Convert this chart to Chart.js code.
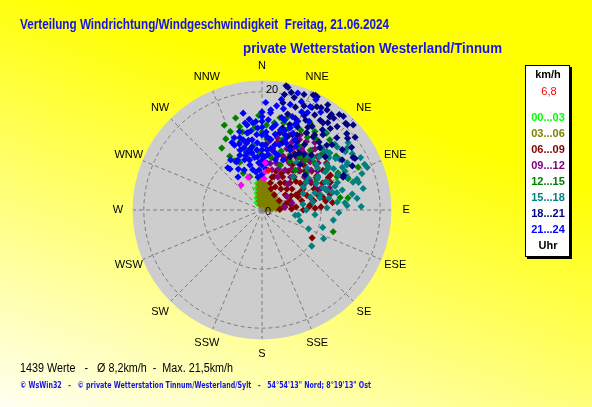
<!DOCTYPE html>
<html>
<head>
<meta charset="utf-8">
<script src="https://cdn.jsdelivr.net/npm/chart.js@4.4.1/dist/chart.umd.min.js"></script>
<style>
html,body{margin:0;padding:0;}
body{width:592px;height:407px;overflow:hidden;background:linear-gradient(200deg,#ffff00 30%,#fffff2 100%);}
canvas{display:block;}
</style>
</head>
<body>
<canvas id="rose" width="592" height="407"></canvas>
<script>
// wind rose data: [direction in degrees, speed in km/h]
const compass = ['N','NNE','NE','ENE','E','ESE','SE','SSE','S','SSW','SW','WSW','W','WNW','NW','NNW'];
const timeBands = ['00...03','03...06','06...09','09...12','12...15','15...18','18...21','21...24'];
const bandColors = ['#00ff00','#808000','#800000','#800080','#008000','#008080','#000080','#0000ff'];
const ringValues = [10, 20];
const speedMax = 22;

const band0003 = [[350,4.6],[347,3.8],[344,3.0],[337,2.2],[325,1.5],[351,3.4],[355,4.2],[347,2.3],[352,4.0],[356,3.0]];
const band0306 = [[356,4.9],[2,4.9],[353,4.3],[0,4.2],[9,4.3],[352,3.6],[0,3.6],[8,3.6],[16,3.7],
  [350,2.9],[0,2.9],[10,2.9],[19,3.1],[30,3.3],[347,2.3],[0,2.2],[13,2.3],[25,2.4],[35,2.7],[45,3.1],
  [342,1.6],[0,1.5],[18,1.6],[34,1.8],[45,2.2],[53,2.6],[61,3.1],[338,0.9],[11,0.9],[39,1.1],[58,1.6],
  [67,2.2],[73,2.8],[75,3.3],[63,0.4],[80,1.0],[84,1.7],[86,2.4],[87,3.1]];
const band0609 = [[82,3.8],[85,5.8],[86,8.0],[87,10.0],[62,3.3],[72,5.0],[77,6.9],[80,8.9],[82,10.9],
  [39,3.3],[57,4.7],[66,6.3],[72,8.0],[75,9.8],[77,11.8],[23,3.9],[42,4.8],[55,6.2],[63,7.8],[68,9.5],[72,11.3],
  [17,4.8],[34,5.5],[46,6.6],[55,7.9],[61,9.5],[66,11.2],[17,5.8],[32,6.6],[44,7.8],[53,9.2],[59,10.7],
  [20,7.0],[34,7.9],[44,9.2],[52,10.7],[57,12.3],[22,8.2],[34,9.2],[43,10.4],[50,11.9],[23,9.6],[34,10.6],[43,12.0],
  [32,12.0],[40,13.2],[119,9.7],[44,14.5],[63,13.0],[68,12.5],[84,8.2],
  [20,6.0],[28,7.0],[38,8.5],[48,9.8],[58,11.0],[64,12.5],[70,10.0],[76,8.5],[78,10.5],[84,12.0],[88,9.0],
  [90,7.0],[88,5.0],[75,4.2],[64,5.5],[50,5.5],[30,4.5],[40,6.0],[50,7.5],[58,8.5],[65,7.0],[70,6.5],[80,5.0],
  [27,9.5],[38,11.0],[30,11.0],[46,13.0],[54,13.5],[88,3.0]];
const band0912 = [[17,13.3],[27,14.3],[13,11.8],[24,12.6],[33,13.8],[10,10.5],[22,11.2],[33,12.3],[41,13.7],
  [8,9.3],[21,9.8],[32,10.8],[41,12.2],[17,8.3],[30,9.2],[40,10.5],[50,12.4],[14,7.0],[30,7.8],[42,9.1],[51,10.7],
  [26,6.2],[41,7.4],[52,9.1],[45,6.2],[64,10.0],[77,5.2],[83,3.9],[62,4.8],[344,9.2],
  [5,11.5],[12,12.5],[20,13.5],[26,11.5],[36,12.0],[45,11.5],[38,14.5],[30,15.0],[47,13.5],[55,11.5],[58,9.5],
  [36,8.5],[22,7.5],[16,9.5],[10,8.0],[70,10.5],[72,12.0],[28,13.5]];
const band1215 = [[336,15.7],[338,14.3],[346,13.6],[342,12.1],[329,10.6],[335,8.9],[350,13.3],[348,9.9],[0,13.2],
  [8,14.9],[11,15.9],[14,15.7],[358,9.7],[5,10.2],[16,12.3],[22,13.8],[32,14.5],[38,15.1],[39,13.0],[40,17.0],
  [47,14.1],[41,11.2],[27,10.5],[40,8.8],[66,13.9],[66,17.8],[61,10.6],[22,8.2],[345,14.6],[3,14.4],[14,15.2],
  [1,11.0],[64,14.3],[82,14.7],[43,14.5],[81,13.4],[107,12.6],[50,14.0],[333,7.0],[340,6.0],[29,16.8],[22,15.6],[15,16.1],
  [333,13.5],[327,12.5],[331,9.5],[344,10.5],[352,11.0],[355,14.0],[4,12.0],[10,13.0],[18,14.5],[26,15.0],[30,12.5],
  [34,16.0],[44,16.5],[36,11.0],[48,12.0],[54,15.5],[58,13.0],[70,15.5],[30,9.5],[18,10.5],[10,9.0],[50,9.8],[344,16.2],[358,16.0]];
const band1518 = [[39,16.9],[48,16.6],[55,17.2],[61,16.5],[65,15.5],[68,19.2],[83,16.2],[87,14.4],[73,11.5],[70,13.6],
  [78,10.0],[75,8.5],[98,6.2],[106,6.7],[106,10.7],[98,12.2],[126,10.4],[67,12.1],[59,11.0],[61,8.0],[43,7.7],
  [57,15.7],[50,15.0],[43,14.4],[44,12.3],[47,10.4],[59,12.5],[76,12.3],[76,14.0],[74,17.0],[55,13.4],[62,18.9],
  [72,16.9],[85,14.1],[62,16.3],[50,16.6],[66,11.7],[77,13.0],[72,9.4],[54,17.8],[45,14.5],[55,15.2],[57,13.4],
  [62,15.4],[72,13.0],[75,10.2],[99,5.7],[81,8.7],[73,16.1],[60,10.9],[48,14.8],
  [52,18.5],[58,18.0],[66,19.0],[70,18.0],[78,17.5],[80,15.5],[69,15.5],[65,14.2],[60,14.0],[52,14.4],[47,13.2],
  [53,11.8],[64,10.2],[70,11.0],[80,11.5],[84,12.8],[88,11.0],[92,13.0],[95,9.0],[90,7.5],[82,7.0],[68,7.5],
  [55,9.5],[50,12.0],[58,8.8],[112,8.5],[115,11.5],[88,16.8],[40,12.0],[36,10.0]];
const band1821 = [[11,21.4],[12,21.2],[11,19.9],[11,18.5],[16,19.8],[24,21.3],[26,21.3],[26,19.3],[30,20.0],[33,20.2],
  [36,20.0],[38,19.7],[45,20.4],[42,19.0],[37,18.5],[33,18.1],[29,18.4],[26,16.9],[23,15.3],[18,15.2],[14,14.3],
  [13,13.4],[19,13.1],[25,14.0],[30,15.1],[35,15.1],[39,16.4],[47,16.2],[60,17.8],[68,14.8],[43,14.4],[33,13.2],
  [27,13.0],[24,11.7],[17,11.9],[28,10.2],[25,21.4],[18,18.3],[36,19.5],[39,20.8],[44,20.4],[47,21.1],[50,18.9],
  [46,17.6],[37,17.0],[35,15.5],[61,18.0],[29,16.0],[67,15.0],
  [14,20.5],[20,20.8],[22,19.0],[28,19.8],[32,21.0],[35,18.0],[40,18.0],[41,21.0],[48,19.3],[52,20.0],[55,18.5],
  [53,17.0],[20,16.5],[24,17.5],[31,16.5],[40,15.0],[45,15.5],[22,13.8],[15,16.8],[33,11.5],[58,16.0],[64,17.0],[50,14.0],[42,12.5],
  [40,10.0],[31,10.9],[51,9.4],[37,11.8]];
const band2124 = [[0,16.6],[0,15.8],[5,17.0],[5,16.5],[349,16.7],[349,13.3],[347,11.6],[345,10.0],[352,12.0],[351,10.8],
  [350,9.8],[356,11.4],[355,10.2],[355,9.0],[0,14.0],[0,12.7],[0,11.0],[0,9.3],[0,7.6],[4,12.4],[5,10.2],[6,8.0],
  [340,10.8],[334,9.4],[322,8.8],[324,6.9],[353,5.6],[347,7.0],[339,13.1],[17,20.7],[25,19.3],[25,18.2],[31,19.3],
  [26,20.8],[22,17.9],[18,16.6],[10,19.0],[18,12.5],[9,14.6],[13,13.9],[19,14.7],[14,15.7],[25,13.1],[11,11.2],[16,9.7],
  [350,14.6],[354,14.8],[357,13.9],[345,12.3],[343,12.8],[341,9.0],[337,11.9],[345,7.9],[351,6.5],[336,7.4],[332,9.2],[321,9.2],
  [349,15.0],[349,12.0],[349,10.5],[352,13.5],[352,15.5],[352,9.0],[356,12.8],[356,15.0],[356,8.0],[0,10.2],[0,8.4],
  [0,15.0],[3,11.0],[3,13.2],[3,9.0],[4,15.3],[7,12.0],[7,14.0],[8,10.5],[344,11.0],[344,13.8],[341,11.8],[338,10.0],
  [336,12.5],[346,8.7],[343,9.6],[330,8.0],[328,10.0],[12,17.5],[15,18.5],[20,19.5],[22,16.2],[28,17.0],[12,16.0],
  [16,14.0],[20,12.0],[22,14.0],[10,13.0],[8,17.8],[2,18.2],
  [7,12.0],[15,11.4],[25,11.2],[15,8.8],[17,13.3],[21,15.5],[6,9.4],[23,9.2],[0,6.0],[356,6.8],[5,7.0],[28,12.2],[12,10.0]];
const recentValues = [[337,6.0],[320,5.5],[4,8.0],[4,5.3],[5,6.5]];
const currentValue = [[9,6.8]];
const calmValues = [[0,0]];

const titleText = 'Verteilung Windrichtung/Windgeschwindigkeit  Freitag, 21.06.2024';
const subtitleText = 'private Wetterstation Westerland/Tinnum';
const summaryText = '1439 Werte   -   Ø 8,2km/h  -  Max. 21,5km/h';
const footerText = '© WsWin32   -   © private Wetterstation Tinnum/Westerland/Sylt   -   54°54\'13" Nord; 8°19\'13" Ost';
const currentText = '6,8';

const toXY = ([dir, spd]) => ({x: spd * Math.sin(dir * Math.PI / 180), y: spd * Math.cos(dir * Math.PI / 180)});

const bands = [band0003, band0306, band0609, band0912, band1215, band1518, band1821, band2124];
const datasets = bands.map((b, i) => ({
  label: timeBands[i], data: b.map(toXY), backgroundColor: bandColors[i],
  pointStyle: 'rectRot', pointRadius: 3.6, pointBorderWidth: 0, order: 20 - i
}));
datasets.push({label:'recent', data: recentValues.map(toXY), backgroundColor:'#ff00ff', pointStyle:'rectRot', pointRadius:3.6, pointBorderWidth:0, order:5});
datasets.push({label:'current', data: currentValue.map(toXY), backgroundColor:'#ff0000', pointStyle:'rectRot', pointRadius:3.6, pointBorderWidth:0, order:4});
datasets.push({label:'calm', data: calmValues.map(toXY), backgroundColor:'#808080', pointStyle:'rect', pointRadius:3, pointBorderWidth:0, order:3});

const roseFrame = {
  id: 'roseFrame',
  beforeDatasetsDraw(chart){
    const ctx = chart.ctx, xs = chart.scales.x, ys = chart.scales.y;
    const cx = xs.getPixelForValue(0), cy = ys.getPixelForValue(0);
    const rad = v => xs.getPixelForValue(v) - cx;
    ctx.save();
    ctx.fillStyle = '#cdcdcd';
    ctx.beginPath(); ctx.arc(cx, cy, rad(21.9), 0, Math.PI*2); ctx.fill();
    ctx.strokeStyle = '#7c7c7c'; ctx.lineWidth = 1; ctx.setLineDash([4,3]);
    ringValues.forEach(v => { ctx.beginPath(); ctx.arc(cx, cy, rad(v), 0, Math.PI*2); ctx.stroke(); });
    compass.forEach((c, i) => {
      const a = i * 22.5 * Math.PI / 180;
      ctx.beginPath();
      ctx.moveTo(cx, cy);
      ctx.lineTo(xs.getPixelForValue(21.8*Math.sin(a)), ys.getPixelForValue(21.8*Math.cos(a)));
      ctx.stroke();
    });
    ctx.restore();
  },
  afterDatasetsDraw(chart){
    const ctx = chart.ctx, xs = chart.scales.x, ys = chart.scales.y;
    const cx = xs.getPixelForValue(0), cy = ys.getPixelForValue(0);
    ctx.save();
    ctx.fillStyle = '#000';
    ctx.font = '11px "Liberation Sans", Arial, sans-serif';
    ctx.textAlign = 'left'; ctx.textBaseline = 'middle';
    ctx.fillText('20', cx + 4, ys.getPixelForValue(20) - 2);
    ctx.fillText('0', cx + 3, cy + 2);
    ctx.textAlign = 'center';
    compass.forEach((c, i) => {
      const a = i * 22.5 * Math.PI / 180;
      ctx.fillText(c, xs.getPixelForValue(24.4*Math.sin(a)), ys.getPixelForValue(24.4*Math.cos(a)));
    });
    // titles
    ctx.textAlign = 'left';
    ctx.fillStyle = '#1414e6';
    ctx.font = 'bold 14px "Liberation Sans", Arial, sans-serif';
    ctx.fillText(titleText, 20, 25, 369);
    ctx.fillText(subtitleText, 243, 49, 259);
    // summary + footer
    ctx.fillStyle = '#000';
    ctx.font = '12px "Liberation Sans", Arial, sans-serif';
    ctx.fillText(summaryText, 20, 369, 213);
    ctx.fillStyle = '#1414e6';
    ctx.font = 'bold 8px "DejaVu Sans", Verdana, sans-serif';
    ctx.fillText(footerText, 20, 386, 351);
    // legend box
    ctx.fillStyle = '#000';
    ctx.fillRect(527, 67, 45, 192);
    ctx.fillStyle = '#fff';
    ctx.fillRect(525, 65, 45, 192);
    ctx.strokeStyle = '#000'; ctx.lineWidth = 1;
    ctx.strokeRect(525.5, 65.5, 44, 191);
    ctx.textAlign = 'center';
    ctx.fillStyle = '#000';
    ctx.font = 'bold 11px "Liberation Sans", Arial, sans-serif';
    ctx.fillText('km/h', 548, 75);
    ctx.font = '11px "Liberation Sans", Arial, sans-serif';
    ctx.fillStyle = '#ff0000';
    ctx.fillText(currentText, 549, 92);
    ctx.font = 'bold 11px "Liberation Sans", Arial, sans-serif';
    timeBands.forEach((t, i) => {
      ctx.fillStyle = bandColors[i];
      ctx.fillText(t, 548, 118 + i * 16);
    });
    ctx.fillStyle = '#000';
    ctx.fillText('Uhr', 548, 246);
    ctx.restore();
  }
};

new Chart(document.getElementById('rose'), {
  type: 'scatter',
  data: { datasets: datasets },
  options: {
    responsive: false,
    animation: false,
    layout: { padding: { left: 132, right: 200, top: 80, bottom: 67 } },
    scales: {
      x: { type: 'linear', min: -speedMax, max: speedMax, display: false },
      y: { type: 'linear', min: -speedMax, max: speedMax, display: false }
    },
    plugins: { legend: { display: false }, tooltip: { enabled: false } }
  },
  plugins: [roseFrame]
});
</script>
</body>
</html>
